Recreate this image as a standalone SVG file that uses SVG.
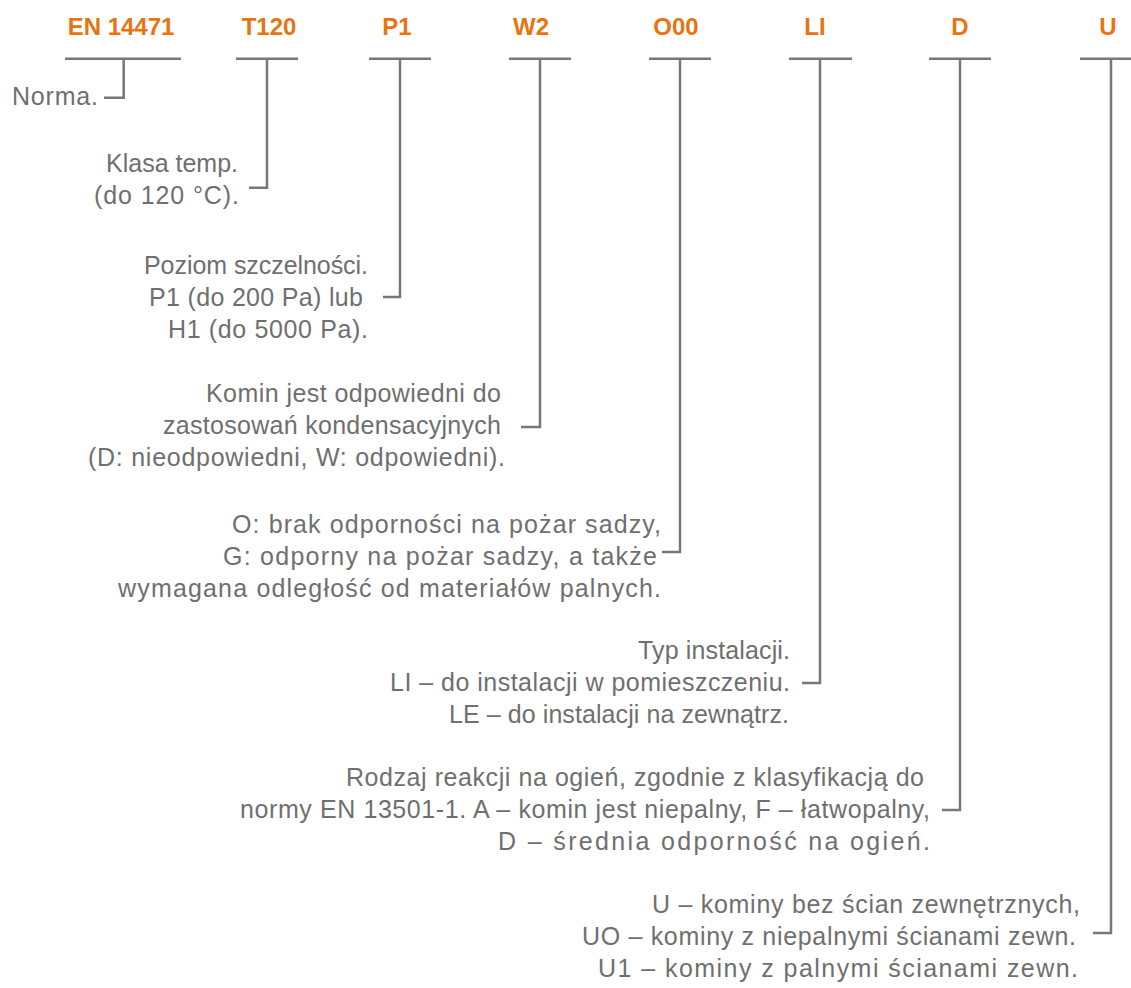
<svg xmlns="http://www.w3.org/2000/svg" width="1131" height="988" viewBox="0 0 1131 988">
<style>
.h{font-family:"Liberation Sans",Arial,sans-serif;font-weight:bold;font-size:24px;fill:#E8740F;text-anchor:middle}
.t{font-family:"Liberation Sans",Arial,sans-serif;font-size:25px;fill:#6f6f6f;text-anchor:end}
.c{fill:none;stroke:#787878;stroke-width:2.5}
</style>
<rect width="1131" height="988" fill="#ffffff"/>
<g id="connectors">
<path class="c" d="M65 58.7H181M123.7 58.7V97.7H104"/>
<path class="c" d="M236 58.7H298M267 58.7V187.7H249"/>
<path class="c" d="M369 58.7H431M400 58.7V297H383"/>
<path class="c" d="M509 58.7H571M540 58.7V427H521"/>
<path class="c" d="M649 58.7H711M680 58.7V552H662"/>
<path class="c" d="M789 58.7H852M820 58.7V683H802"/>
<path class="c" d="M929 58.7H991M960 58.7V810H942"/>
<path class="c" d="M1080 58.7H1142M1111 58.7V933H1093"/>
</g>
<g id="en14471">
<text class="h" x="121" y="35">EN 14471</text>
<text class="t" x="98" y="105" textLength="86">Norma.</text>
</g>
<g id="t120">
<text class="h" x="269" y="35">T120</text>
<text class="t" x="238" y="172" textLength="132">Klasa temp.</text>
<text class="t" x="239" y="204" textLength="145">(do 120 °C).</text>
</g>
<g id="p1">
<text class="h" x="397" y="35">P1</text>
<text class="t" x="368" y="274" textLength="224">Poziom szczelności.</text>
<text class="t" x="363" y="306" textLength="214">P1 (do 200 Pa) lub</text>
<text class="t" x="368" y="338" textLength="200">H1 (do 5000 Pa).</text>
</g>
<g id="w2">
<text class="h" x="531" y="35">W2</text>
<text class="t" x="501" y="402" textLength="295">Komin jest odpowiedni do</text>
<text class="t" x="501" y="434" textLength="338">zastosowań kondensacyjnych</text>
<text class="t" x="505" y="466" textLength="417">(D: nieodpowiedni, W: odpowiedni).</text>
</g>
<g id="o00">
<text class="h" x="676" y="35">O00</text>
<text class="t" x="661" y="533" textLength="429">O: brak odporności na pożar sadzy,</text>
<text class="t" x="657" y="565" textLength="434">G: odporny na pożar sadzy, a także</text>
<text class="t" x="661" y="597" textLength="543">wymagana odległość od materiałów palnych.</text>
</g>
<g id="li">
<text class="h" x="815" y="35">LI</text>
<text class="t" x="790" y="659" textLength="152">Typ instalacji.</text>
<text class="t" x="790" y="691" textLength="400">LI – do instalacji w pomieszczeniu.</text>
<text class="t" x="789" y="723" textLength="340">LE – do instalacji na zewnątrz.</text>
</g>
<g id="d">
<text class="h" x="960" y="35">D</text>
<text class="t" x="924" y="786" textLength="578">Rodzaj reakcji na ogień, zgodnie z klasyfikacją do</text>
<text class="t" x="930" y="818" textLength="690">normy EN 13501-1. A – komin jest niepalny, F – łatwopalny,</text>
<text class="t" x="930" y="850" textLength="432">D – średnia odporność na ogień.</text>
</g>
<g id="u">
<text class="h" x="1108" y="35">U</text>
<text class="t" x="1080" y="913" textLength="428">U – kominy bez ścian zewnętrznych,</text>
<text class="t" x="1076" y="945" textLength="494">UO – kominy z niepalnymi ścianami zewn.</text>
<text class="t" x="1078" y="977" textLength="480">U1 – kominy z palnymi ścianami zewn.</text>
</g>
</svg>
